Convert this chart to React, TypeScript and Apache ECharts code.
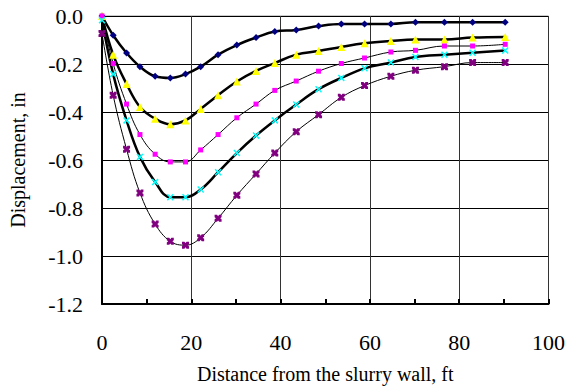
import React, { useEffect, useRef } from "react";
import * as echarts from "echarts";

const distances = [0, 2.5, 5.5, 8.5, 11.9, 15.3, 18.7, 22.1, 26.0, 30.2, 34.5, 38.7, 43.5, 48.5, 53.6, 58.8, 64.7, 70.2, 76.7, 83.0, 90.3];

const seriesNavy = [0.0, -0.08, -0.154, -0.211, -0.251, -0.258, -0.242, -0.211, -0.161, -0.121, -0.09, -0.065, -0.058, -0.042, -0.033, -0.033, -0.033, -0.026, -0.026, -0.026, -0.026];
const seriesYellow = [0.0, -0.161, -0.283, -0.379, -0.428, -0.451, -0.435, -0.387, -0.33, -0.273, -0.229, -0.196, -0.161, -0.146, -0.129, -0.114, -0.104, -0.098, -0.098, -0.09, -0.087];
const seriesMagenta = [0.0, -0.198, -0.367, -0.494, -0.576, -0.608, -0.608, -0.558, -0.494, -0.424, -0.367, -0.31, -0.271, -0.23, -0.198, -0.175, -0.15, -0.143, -0.125, -0.125, -0.118];
const seriesCyan = [-0.018, -0.242, -0.435, -0.587, -0.692, -0.755, -0.755, -0.723, -0.651, -0.571, -0.498, -0.435, -0.369, -0.305, -0.258, -0.218, -0.194, -0.171, -0.161, -0.153, -0.144];
const seriesPurple = [-0.073, -0.33, -0.555, -0.737, -0.867, -0.939, -0.955, -0.924, -0.843, -0.747, -0.658, -0.571, -0.482, -0.411, -0.339, -0.29, -0.251, -0.226, -0.211, -0.194, -0.194];

const xTitle = "Distance from the slurry wall, ft";
const yTitle = "Displacement, in";

const FONT = "Liberation Serif";

const crossThin = "path://M0,1.5 L1.5,0 L5,3.5 L8.5,0 L10,1.5 L6.5,5 L10,8.5 L8.5,10 L5,6.5 L1.5,10 L0,8.5 L3.5,5Z";
const crossBox = "path://M0,0 L3.5,0 L5,2 L6.5,0 L10,0 L10,3.5 L8,5 L10,6.5 L10,10 L6.5,10 L5,8 L3.5,10 L0,10 L0,6.5 L2,5 L0,3.5Z";

function mk(vals: number[], color: string, symbol: string, size: number, width: number) {
  return {
    type: "line",
    data: distances.map((d, i) => [d, vals[i]]),
    smooth: 0.4,
    symbol,
    symbolSize: size,
    showSymbol: true,
    lineStyle: { color: "#000", width },
    itemStyle: { color, borderWidth: 0 },
    z: 3,
  };
}

export default function App() {
  const ref = useRef<HTMLDivElement>(null);
  useEffect(() => {
    document.body.style.margin = "0";
    if (!ref.current) return;
    const chart = echarts.init(ref.current, null, { renderer: "svg" });
    chart.setOption({
      animation: false,
      backgroundColor: "#fff",
      textStyle: { fontFamily: FONT, color: "#000" },
      grid: {
        left: 102,
        top: 16,
        width: 448,
        height: 288,
        show: true,
        borderColor: "#999",
        borderWidth: 1,
      },
      xAxis: {
        type: "value",
        min: 0,
        max: 100,
        interval: 20,
        name: xTitle,
        nameLocation: "middle",
        nameGap: 60,
        nameTextStyle: { fontFamily: FONT, fontSize: 20, color: "#000" },
        axisLine: { show: true, onZero: false, lineStyle: { color: "#000", width: 2 } },
        axisTick: { show: true, inside: true, length: 5, lineStyle: { color: "#000", width: 2 } },
        minorTick: { show: true, splitNumber: 2, length: 5, lineStyle: { color: "#000", width: 2 } },
        axisLabel: {
          show: true,
          margin: 27,
          showMaxLabel: true,
          textStyle: { fontFamily: FONT, fontSize: 22, color: "#000" },
          fontFamily: FONT,
          fontSize: 22,
          color: "#000",
        },
        splitLine: { show: true, lineStyle: { color: "#333", width: 1 } },
      },
      yAxis: {
        type: "value",
        min: -1.2,
        max: 0,
        interval: 0.2,
        name: yTitle,
        nameLocation: "middle",
        nameGap: 74,
        nameRotate: 90,
        nameTextStyle: { fontFamily: FONT, fontSize: 20, color: "#000" },
        axisLine: { show: true, onZero: false, lineStyle: { color: "#000", width: 2 } },
        axisTick: { show: false },
        axisLabel: {
          show: true,
          margin: 19,
          fontFamily: FONT,
          fontSize: 22,
          color: "#000",
          formatter: (v: number) => v.toFixed(1),
        },
        splitLine: { show: true, lineStyle: { color: "#000", width: 1 } },
      },
      series: [
        mk(seriesNavy, "#000080", "diamond", 7, 2.5),
        mk(seriesYellow, "#ffff00", "triangle", 8, 2.5),
        mk(seriesMagenta, "#ff00ff", "rect", 5, 1),
        mk(seriesCyan, "#00ffff", crossThin, 7, 2.5),
        mk(seriesPurple, "#800080", crossBox, 7, 1),
      ],
    });
    return () => chart.dispose();
  }, []);
  return <div ref={ref} style={{ width: 568, height: 392 }} />;
}
